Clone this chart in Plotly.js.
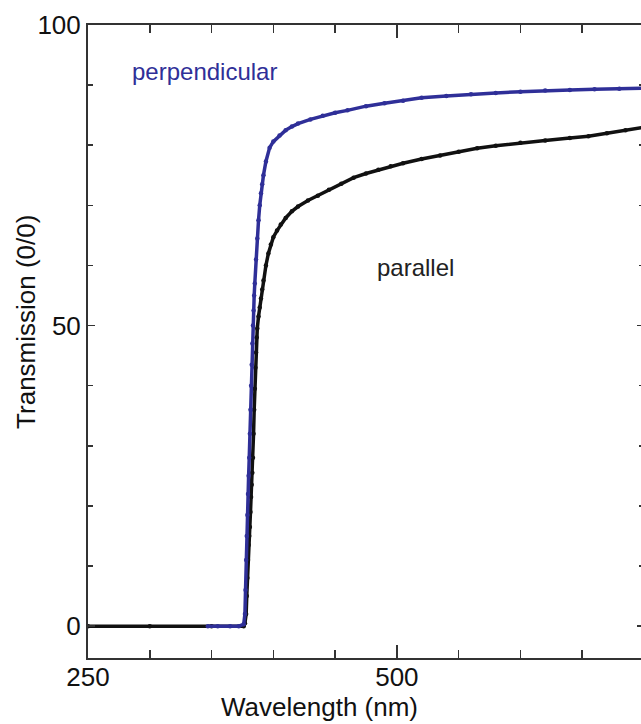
<!DOCTYPE html>
<html>
<head>
<meta charset="utf-8">
<script src="https://cdn.plot.ly/plotly-3.0.1.min.js"></script>
<style>
html, body { margin: 0; padding: 0; overflow: hidden; background: #fff; }
#chart { width: 645px; height: 724px; }
</style>
</head>
<body>
<div id="chart"></div>
<script>
// Parallel polarisation (black)
var parallelWl = [250, 300, 350, 376, 377, 378, 378.5, 379, 379.5, 380, 380.5, 381, 381.5, 382, 382.5, 383, 383.5, 384, 384.5, 385, 385.5, 386, 386.5, 387, 388, 389, 390, 391, 392, 394, 396, 398, 400, 403, 406, 410, 415, 420, 428, 436, 445, 455, 465, 475, 485, 495, 505, 520, 535, 550, 565, 580, 600, 620, 640, 655, 670, 685, 700];
var parallelT  = [0, 0, 0, 0, 0.5, 2, 5, 8, 11, 13.5, 15, 16.5, 19, 21.5, 23.5, 25.5, 28, 32, 36, 39.5, 43, 45.5, 48, 49.5, 51.5, 53, 54.5, 56, 57.5, 60, 62, 63.5, 64.7, 65.8, 66.8, 67.9, 69, 69.8, 70.8, 71.6, 72.6, 73.6, 74.6, 75.3, 75.9, 76.5, 77, 77.7, 78.3, 78.9, 79.5, 79.9, 80.4, 80.8, 81.2, 81.5, 82, 82.5, 83];

// Perpendicular polarisation (blue)
var perpWl = [347, 355, 365, 372, 376, 377, 377.5, 378, 378.5, 379, 379.5, 380, 380.5, 381, 381.5, 382, 382.5, 383, 383.5, 384, 384.5, 385, 386, 387, 388, 389, 390, 391, 392, 394, 397, 400, 405, 410, 415, 420, 430, 440, 450, 460, 475, 490, 505, 520, 540, 560, 580, 600, 620, 640, 660, 680, 700];
var perpT  = [0, 0, 0, 0, 0.3, 2, 6, 11, 15, 18.5, 22, 25, 28, 32, 36, 40, 43.5, 47, 50, 52.5, 55, 57, 61, 64.5, 67.5, 70, 72, 73.5, 75, 77.3, 79.6, 80.6, 81.6, 82.5, 83.1, 83.6, 84.3, 84.9, 85.4, 85.8, 86.5, 87, 87.4, 87.9, 88.2, 88.5, 88.7, 88.9, 89.1, 89.2, 89.3, 89.4, 89.5];

var xTickVals = [250, 500];
var xTickText = ['250', '500'];
var yTickVals = [0, 50, 100];
var yTickText = ['0', '50', '100'];

var FONT = 'Liberation Sans, Arial, sans-serif';
var BLUE = '#2f2f98';
var BLACK = '#111111';

var traces = [
  {
    x: parallelWl, y: parallelT, type: 'scatter', mode: 'lines+markers',
    name: 'parallel',
    line: { color: BLACK, width: 3.5 },
    marker: { color: BLACK, size: 4.5 }
  },
  {
    x: perpWl, y: perpT, type: 'scatter', mode: 'lines+markers',
    name: 'perpendicular',
    line: { color: BLUE, width: 3.5 },
    marker: { color: BLUE, size: 4.5 }
  }
];

var layout = {
  width: 645, height: 724,
  margin: { l: 88, r: 1, t: 25, b: 66 },
  paper_bgcolor: '#ffffff', plot_bgcolor: '#ffffff',
  showlegend: false,
  font: { family: FONT, size: 26, color: BLACK },
  xaxis: {
    range: [250, 700],
    tickmode: 'array', tickvals: xTickVals, ticktext: xTickText,
    ticks: 'inside', ticklen: 13, tickwidth: 1.5, tickcolor: '#333',
    ticklabelstandoff: -5,
    minor: { dtick: 50, tick0: 250, ticks: 'inside', ticklen: 8, tickwidth: 1.5, tickcolor: '#333', showgrid: false },
    showline: true, linecolor: '#333', linewidth: 2, mirror: 'ticks',
    showgrid: false, zeroline: false,
    tickfont: { family: FONT, size: 26, color: BLACK }
  },
  yaxis: {
    range: [-5.3, 100],
    tickmode: 'array', tickvals: yTickVals, ticktext: yTickText,
    ticks: 'inside', ticklen: 7, tickwidth: 1.5, tickcolor: '#333',
    minor: { dtick: 10, tick0: 0, ticks: 'inside', ticklen: 5, tickwidth: 1.5, tickcolor: '#333', showgrid: false },
    showline: true, linecolor: '#333', linewidth: 2, mirror: 'ticks',
    showgrid: false, zeroline: false,
    tickfont: { family: FONT, size: 26, color: BLACK }
  },
  annotations: [
    { text: 'Transmission (0/0)', xref: 'paper', yref: 'paper', x: -0.1115, y: 0.531,
      xanchor: 'center', yanchor: 'middle', textangle: -90, showarrow: false,
      font: { family: FONT, size: 26, color: BLACK } },
    { text: 'Wavelength (nm)', xref: 'paper', yref: 'paper', x: 0.4155, y: -0.0775,
      xanchor: 'center', yanchor: 'middle', showarrow: false,
      font: { family: FONT, size: 26, color: BLACK } },
    { text: 'perpendicular', xref: 'x', yref: 'y', x: 344, y: 92.3,
      xanchor: 'center', yanchor: 'middle', showarrow: false,
      font: { family: FONT, size: 24, color: BLUE } },
    { text: 'parallel', xref: 'x', yref: 'y', x: 515, y: 59.7,
      xanchor: 'center', yanchor: 'middle', showarrow: false,
      font: { family: FONT, size: 24, color: '#222222' } }
  ]
};

Plotly.newPlot('chart', traces, layout, { displayModeBar: false, staticPlot: true });
</script>
</body>
</html>
